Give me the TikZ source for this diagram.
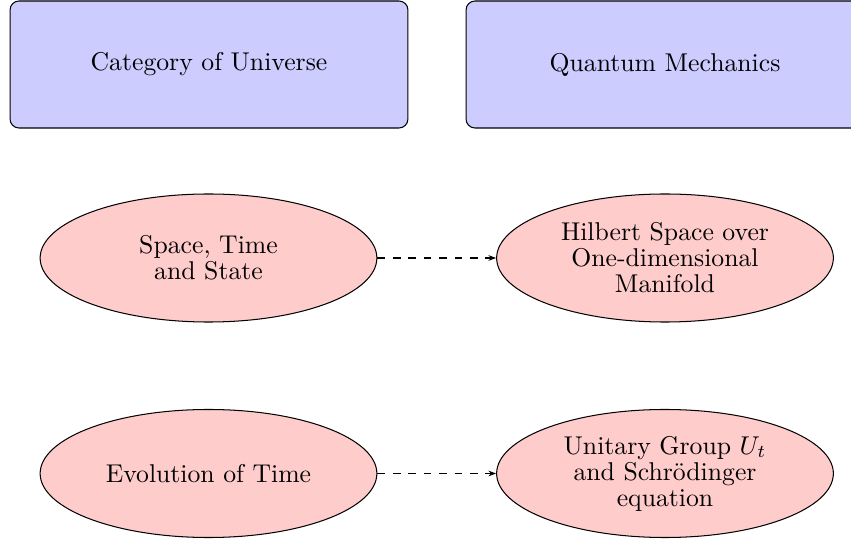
\documentclass[tikz,border=0pt]{standalone}
\usetikzlibrary{shapes.geometric,arrows.meta}
\begin{document}
\begin{tikzpicture}[x=0.389pt,y=-0.389pt,
  catbox/.style={draw, fill=blue!20, rounded corners=3.5pt, minimum width=154.8pt, minimum height=49.4pt, inner sep=0pt, font=\fontsize{10}{10.1}\selectfont},
  ell/.style={draw, fill=red!20, ellipse, minimum width=131pt, minimum height=49.8pt, inner sep=0pt, align=center, font=\fontsize{10}{10.1}\selectfont},
  link/.style={draw, dashed, -{Stealth[length=3pt,width=2.2pt]}}]
\useasboundingbox (0,0) rectangle (851,539);
\node[catbox] (cu) at (209,64.5) {Category of Universe};
\node[catbox] (qm) at (665,64.5) {Quantum Mechanics};
\node[ell] (st) at (208.5,258) {Space, Time\\and State};
\node[ell] (hs) at (665,258) {Hilbert Space over\\One-dimensional\\Manifold};
\node[ell] (ev) at (208.5,473.5) {Evolution of Time};
\node[ell] (ug) at (665,473.5) {Unitary Group $U_t$\\and Schr\"odinger\\equation};
\draw[link] (st) -- (hs);
\draw[link] (ev) -- (ug);
\end{tikzpicture}
\end{document}
